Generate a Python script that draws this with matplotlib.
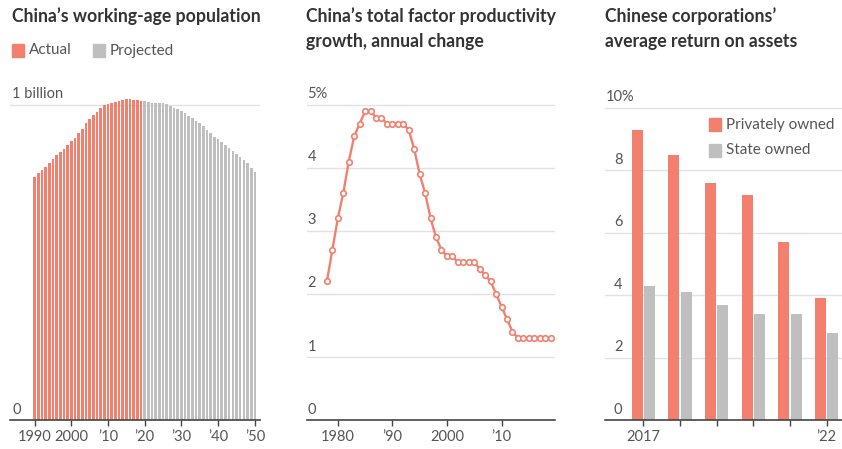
import numpy as np
import matplotlib
matplotlib.use('Agg')
import matplotlib.pyplot as plt
from matplotlib.patches import Rectangle

plt.rcParams['font.family'] = ['Lato', 'DejaVu Sans']

# Working-age population, billions
pop_actual_years = list(range(1990, 2020))
pop_actual = [0.770, 0.783, 0.794, 0.804, 0.817, 0.829, 0.841, 0.849, 0.859, 0.873,
              0.884, 0.896, 0.910, 0.924, 0.942, 0.954, 0.968, 0.979, 0.989, 1.000,
              1.002, 1.005, 1.009, 1.013, 1.016, 1.019, 1.019, 1.016, 1.016, 1.013]
pop_proj_years = list(range(2020, 2051))
pop_proj = [1.011, 1.008, 1.007, 1.007, 1.005, 1.005, 1.003, 0.998, 0.991, 0.987,
            0.981, 0.973, 0.965, 0.958, 0.949, 0.942, 0.933, 0.921, 0.910, 0.899,
            0.891, 0.882, 0.873, 0.862, 0.854, 0.844, 0.836, 0.825, 0.815, 0.799,
            0.786]

# Total factor productivity growth, %
tfp_years = list(range(1978, 2020))
tfp = [2.2, 2.7, 3.2, 3.6, 4.1, 4.5, 4.7, 4.9, 4.9, 4.8,
       4.8, 4.7, 4.7, 4.7, 4.7, 4.6, 4.3, 3.9, 3.6, 3.2,
       2.9, 2.7, 2.6, 2.6, 2.5, 2.5, 2.5, 2.5, 2.4, 2.3,
       2.2, 2.0, 1.8, 1.6, 1.4, 1.3, 1.3, 1.3, 1.3, 1.3,
       1.3, 1.3]

# Return on assets, %
roa_years = [2017, 2018, 2019, 2020, 2021, 2022]
roa_private = [9.3, 8.5, 7.6, 7.2, 5.7, 3.9]
roa_state = [4.3, 4.1, 3.7, 3.4, 3.4, 2.8]

RED = '#F3806E'
GRAY = '#BFBFBF'
GRID = '#E2E2E2'
TXT = '#555555'
TITLE = '#333333'
FS = 10.5

W, H = 842, 449
fig = plt.figure(figsize=(W / 100, H / 100), dpi=100)


def rect(left, right, top, bottom):
    return [left / W, 1 - bottom / H, (right - left) / W, (bottom - top) / H]


def base_style(ax):
    for s in ['top', 'right', 'left']:
        ax.spines[s].set_visible(False)
    ax.spines['bottom'].set_color('#444444')
    ax.spines['bottom'].set_linewidth(1.2)
    ax.set_yticks([])
    ax.tick_params(axis='x', colors='#444444', length=4, width=1,
                   labelsize=FS, labelcolor=TXT, pad=3)


def ylabels(ax, vals, labels, dx=2, ha='left'):
    for v, lab in zip(vals, labels):
        if v > 0:
            ax.axhline(v, color=GRID, lw=1, zorder=0)
        ax.annotate(lab, xy=(0, v), xycoords=ax.get_yaxis_transform(),
                    xytext=(dx, 2.5), textcoords='offset points',
                    ha=ha, va='bottom', fontsize=FS, color=TXT)


# Panel 1
ax1 = fig.add_axes(rect(10, 260, 86, 420))
base_style(ax1)
ax1.bar(pop_actual_years, pop_actual, width=0.72, color=RED, zorder=2)
ax1.bar(pop_proj_years, pop_proj, width=0.72, color=GRAY, zorder=2)
ax1.set_xlim(1983.3, 2051.4)
ax1.set_ylim(0, 1.06)
ax1.set_xticks([1990, 2000, 2010, 2020, 2030, 2040, 2050])
ax1.set_xticklabels(['1990', '2000', '\u201910', '\u201920', '\u201930', '\u201940', '\u201950'])
ylabels(ax1, [0, 1], ['0', '1 billion'], dx=1.5)

# Panel 2
ax2 = fig.add_axes(rect(306.7, 555, 86, 420))
base_style(ax2)
ax2.plot(tfp_years, tfp, color=RED, lw=1.7, marker='o', ms=4,
         mfc='white', mec=RED, mew=1.2, zorder=3, clip_on=False)
ax2.set_xlim(1974.3, 2019.8)
ax2.set_ylim(0, 5.3)
ax2.set_xticks([1980, 1990, 2000, 2010])
ax2.set_xticklabels(['1980', '\u201990', '2000', '\u201910'])
ylabels(ax2, [0, 1, 2, 3, 4, 5], ['0', '1', '2', '3', '4', '5%'], dx=0.5)

# Panel 3
ax3 = fig.add_axes(rect(605, 842, 86, 420))
base_style(ax3)
x = np.array(roa_years)
ax3.bar(x - 0.166, roa_private, width=0.3, color=RED, zorder=2)
ax3.bar(x + 0.17, roa_state, width=0.3, color=GRAY, zorder=2)
ax3.set_xlim(2015.96, 2022.42)
ax3.set_ylim(0, 10.7)
ax3.set_xticks(roa_years)
ax3.set_xticklabels(['2017', '', '', '', '', '\u201922'])
ylabels(ax3, [0, 2, 4, 6, 8], ['0', '2', '4', '6', '8'], dx=12.5, ha='right')
ylabels(ax3, [10], ['10%'], dx=0.5)

# Titles
tkw = dict(fontsize=12.7, fontweight='bold', color=TITLE, va='baseline')
fig.text(12 / W, 1 - 22 / H, 'China\u2019s working-age population', **tkw)
fig.text(306 / W, 1 - 22 / H, 'China\u2019s total factor productivity', **tkw)
fig.text(306 / W, 1 - 47 / H, 'growth, annual change', **tkw)
fig.text(605 / W, 1 - 22 / H, 'Chinese corporations\u2019', **tkw)
fig.text(605 / W, 1 - 47 / H, 'average return on assets', **tkw)


def legend_item(xp, yp, color, label):
    fig.patches.append(Rectangle((xp / W, 1 - (yp + 13) / H), 12 / W, 13 / H,
                                 transform=fig.transFigure, color=color))
    fig.text((xp + 17) / W, 1 - (yp + 6.5) / H, label, fontsize=11,
             color=TXT, va='center')


legend_item(12, 44, RED, 'Actual')
legend_item(93, 44, GRAY, 'Projected')
legend_item(709, 118, RED, 'Privately owned')
legend_item(709, 144, GRAY, 'State owned')

fig.savefig('out.png', dpi=100)
